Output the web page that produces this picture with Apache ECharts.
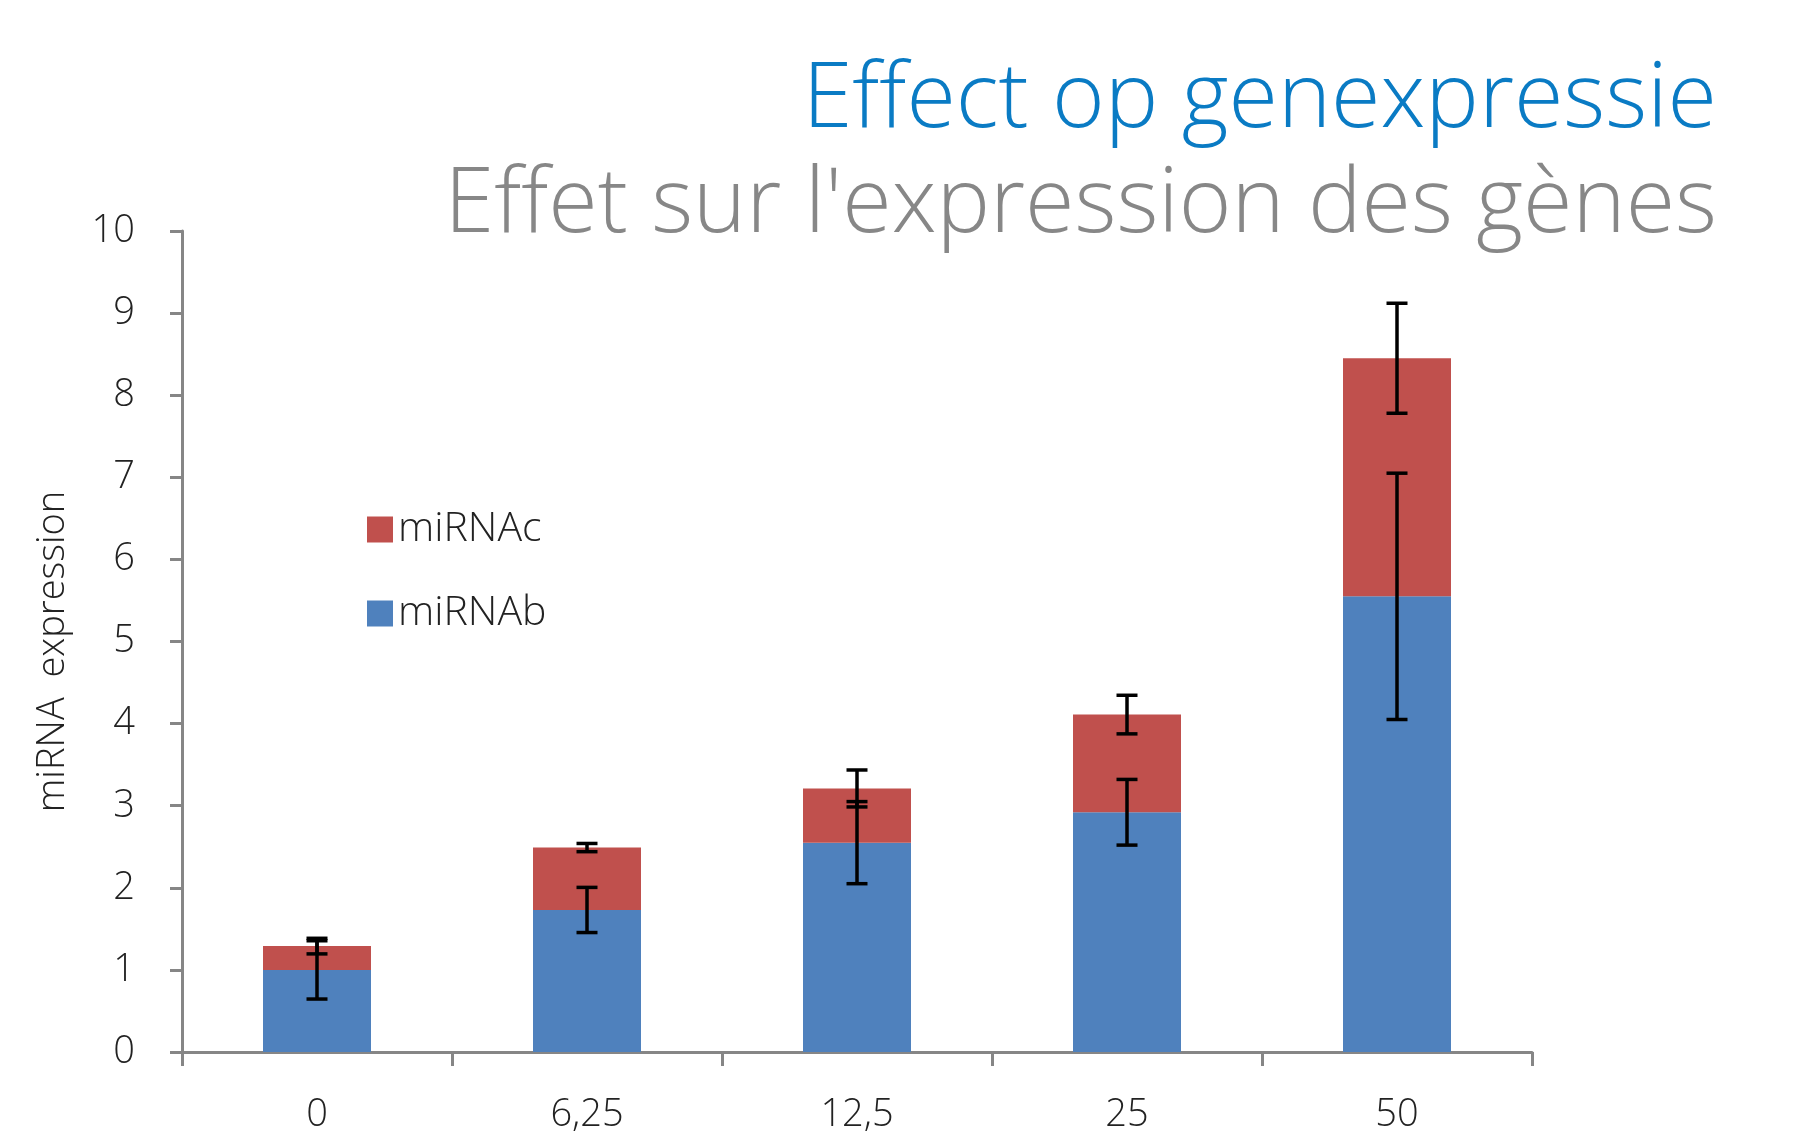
<!DOCTYPE html>
<html>
<head>
<meta charset="utf-8">
<script src="https://cdn.jsdelivr.net/npm/echarts@6/dist/echarts.min.js"></script>
<style>
  html, body { margin: 0; padding: 0; background: #fff; }
  #chart { width: 1793px; height: 1134px; }
</style>
</head>
<body>
<div id="chart"></div>
<script>
  // concentrations
  const categories = ['0', '6,25', '12,5', '25', '50']
  const miRNAb = [1.0, 1.73, 2.55, 2.92, 5.55]
  const miRNAc = [0.29, 0.76, 0.66, 1.19, 2.90]
  // error bars (+/-)
  const errB = [0.355, 0.275, 0.50, 0.40, 1.50]
  const errC = [0.095, 0.05, 0.225, 0.235, 0.67]
  const yTicks = [0, 10, 1] // min, max, interval

  const font = 'Open Sans'
  const chart = echarts.init(document.getElementById('chart'))

  // error bar data: [category, centre, error]
  const errBData = miRNAb.map((v, i) => [i, v, errB[i]])
  const errCData = miRNAc.map((v, i) => [i, v + miRNAb[i], errC[i]])

  function renderErr(params, api) {
    const x = api.value(0)
    const c = api.value(1)
    const e = api.value(2)
    const hi = api.coord([x, c + e])
    const lo = api.coord([x, c - e])
    const half = 10.5
    const style = { stroke: '#000', lineWidth: 3.5 }
    return {
      type: 'group',
      children: [
        { type: 'line', shape: { x1: hi[0], y1: hi[1], x2: lo[0], y2: lo[1] }, style: style },
        { type: 'line', shape: { x1: hi[0] - half, y1: hi[1], x2: hi[0] + half, y2: hi[1] }, style: style },
        { type: 'line', shape: { x1: lo[0] - half, y1: lo[1], x2: lo[0] + half, y2: lo[1] }, style: style }
      ]
    }
  }

  const option = {
    backgroundColor: '#fff',
    animation: false,
    title: [
      {
        text: 'Effect op genexpressie',
        right: 71,
        top: 51,
        textStyle: { fontFamily: font, fontWeight: 300, fontSize: 90, lineHeight: 90, color: '#0a7bc4' }
      },
      {
        text: "Effet sur l'expression des gènes",
        right: 71,
        top: 156,
        textStyle: { fontFamily: font, fontWeight: 300, fontSize: 90, lineHeight: 90, color: '#878787' }
      }
    ],
    legend: {
      orient: 'vertical',
      left: 362,
      top: 504,
      itemWidth: 26,
      itemHeight: 26,
      itemGap: 43,
      icon: 'rect',
      data: ['miRNAc', 'miRNAb'],
      textStyle: { fontFamily: font, fontWeight: 300, fontSize: 41, color: '#222' }
    },
    grid: {
      left: 182,
      right: 261,
      top: 231,
      bottom: 81
    },
    xAxis: {
      type: 'category',
      data: categories,
      axisLine: { lineStyle: { color: '#868686', width: 3 } },
      axisTick: { show: true, length: 14, lineStyle: { color: '#868686', width: 3 } },
      axisLabel: { margin: 44, fontFamily: font, fontWeight: 300, fontSize: 38, color: '#222' }
    },
    yAxis: {
      type: 'value',
      min: yTicks[0],
      max: yTicks[1],
      interval: yTicks[2],
      name: 'miRNA  expression',
      nameLocation: 'middle',
      nameGap: 110,
      nameRotate: 90,
      nameTextStyle: { fontFamily: font, fontWeight: 300, fontSize: 38, color: '#222', padding: [0, 20, 0, 0] },
      axisLine: { show: true, lineStyle: { color: '#868686', width: 3 } },
      axisTick: { show: true, length: 12, lineStyle: { color: '#868686', width: 3 } },
      splitLine: { show: false },
      axisLabel: { margin: 47, fontFamily: font, fontWeight: 300, fontSize: 38, color: '#222' }
    },
    series: [
      {
        name: 'miRNAb',
        type: 'bar',
        stack: 'total',
        barWidth: '40%',
        itemStyle: { color: '#4f81bd' },
        data: miRNAb
      },
      {
        name: 'miRNAc',
        type: 'bar',
        stack: 'total',
        barWidth: '40%',
        itemStyle: { color: '#c0504d' },
        data: miRNAc
      },
      {
        type: 'custom',
        renderItem: renderErr,
        data: errBData,
        z: 5,
        silent: true
      },
      {
        type: 'custom',
        renderItem: renderErr,
        data: errCData,
        z: 5,
        silent: true
      }
    ]
  }
  chart.setOption(option)
</script>
</body>
</html>
